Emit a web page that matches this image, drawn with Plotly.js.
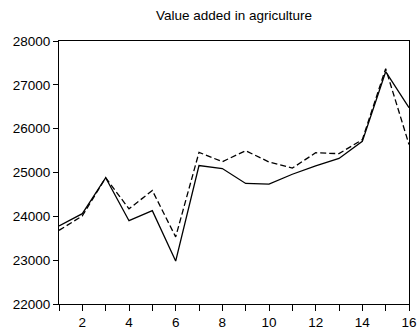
<!DOCTYPE html>
<html>
<head>
<meta charset="utf-8">
<script src="https://cdn.plot.ly/plotly-3.0.1.min.js"></script>
<style>
html,body{margin:0;padding:0;background:#fff;}
#chart{width:419px;height:333px;}
</style>
</head>
<body>
<div id="chart"></div>
<script>
const periods = [1,2,3,4,5,6,7,8,9,10,11,12,13,14,15,16];
const solidSeries = [23780,24060,24880,23900,24130,22980,25160,25090,24750,24735,24960,25150,25320,25710,27300,26480];
const dashedSeries = [23680,24010,24880,24170,24590,23530,25460,25246,25497,25240,25100,25450,25430,25750,27370,25640];
const titleText = 'Value added in agriculture';

const traces = [
  {x: periods, y: solidSeries, type: 'scatter', mode: 'lines', line: {color: '#000', width: 1.3}, hoverinfo: 'skip'},
  {x: periods, y: dashedSeries, type: 'scatter', mode: 'lines', line: {color: '#000', width: 1.3, dash: '6px,3px'}, hoverinfo: 'skip'}
];

const layout = {
  width: 419, height: 333,
  margin: {l: 59, r: 10, t: 41, b: 29, pad: 0},
  paper_bgcolor: '#fff', plot_bgcolor: '#fff',
  showlegend: false,
  font: {family: 'Liberation Sans, Arial, sans-serif', color: '#000'},
  title: {text: titleText, font: {size: 13.5, color: '#000'}, xref: 'paper', x: 0.5, xanchor: 'center', y: 1 - 15/333, yanchor: 'middle'},
  xaxis: {
    range: [1, 16], tick0: 2, dtick: 2, ticks: 'outside', ticklen: 6, tickwidth: 1, tickcolor: '#000',
    showgrid: false, zeroline: false, showline: true, linecolor: '#000', linewidth: 1, mirror: true,
    tickfont: {size: 13.5, color: '#000'},
    minor: {dtick: 1, tick0: 1, ticks: 'outside', ticklen: 6, tickwidth: 1, tickcolor: '#000', showgrid: false}
  },
  yaxis: {
    range: [22000, 28000], dtick: 1000, ticks: 'outside', ticklen: 5, tickwidth: 1, tickcolor: '#000',
    showgrid: false, zeroline: false, showline: true, linecolor: '#000', linewidth: 1, mirror: true,
    tickfont: {size: 13.5, color: '#000'}, tickformat: 'd'
  }
};

Plotly.newPlot('chart', traces, layout, {staticPlot: true, displayModeBar: false});
</script>
</body>
</html>
